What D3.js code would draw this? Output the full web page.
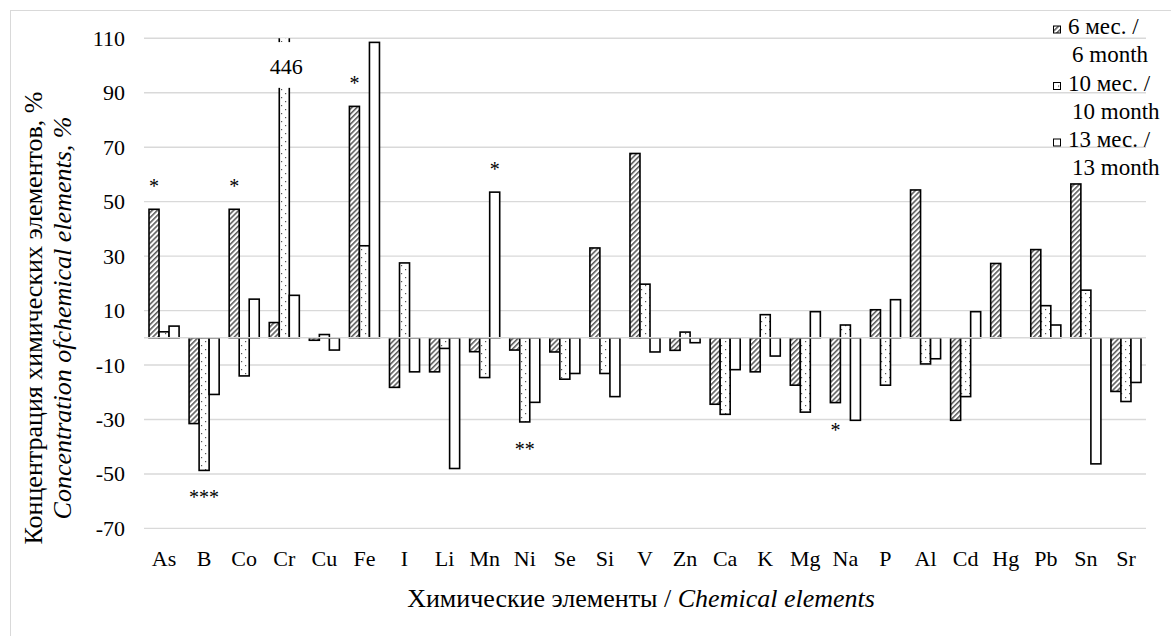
<!DOCTYPE html>
<html><head><meta charset="utf-8">
<script src="https://cdn.jsdelivr.net/npm/d3@7"></script>
<style>
body{margin:0;background:#fff}
svg{display:block}
text, tspan{font-family:"Liberation Serif","Times New Roman",serif;fill:#000}
</style>
</head><body>
<svg id="chart" width="1171" height="636"></svg>
<script>
// ---- data ----
const elements = ["As","B","Co","Cr","Cu","Fe","I","Li","Mn","Ni","Se","Si","V","Zn","Ca","K","Mg","Na","P","Al","Cd","Hg","Pb","Sn","Sr"];
const months6  = [47.2,-31.5,47.2,5.6,-0.9,85,-18.2,-12.5,-5.1,-4.5,-5.2,33,67.7,-4.6,-24.4,-12.5,-17.4,-23.8,10.3,54.3,-30.3,27.3,32.4,56.5,-19.7];
const months10 = [2.2,-48.7,-14,446,1.2,33.8,27.5,-3.9,-14.6,-30.9,-15.2,-13.1,19.7,2.1,-28.1,8.5,-27.3,4.7,-17.4,-9.6,-21.6,null,11.8,17.5,-23.4];
const months13 = [4.3,-20.8,14.2,15.6,-4.5,108.5,-12.5,-48,53.5,-23.7,-13.1,-21.6,-5.2,-1.8,-11.7,-6.7,9.6,-30.3,14,-7.7,9.6,null,4.7,-46.3,-16.4];
const seriesLabels = [["6 мес. /","6 month"],["10 мес. /","10 month"],["13 мес. /","13 month"]];
const yTicks = [110,90,70,50,30,10,-10,-30,-50,-70];
const starElements = ["As","Co","Fe","Mn","B","Ni","Na"];
const starSeries   = [0,0,0,2,1,1,0];
const starTexts    = ["*","*","*","*","***","**","*"];
const brokenLabel = "446";
const yTitle1 = "Концентрация химических  элементов, %";
const yTitle2 = "Concentration ofchemical elements, %";
const xTitle1 = "Химические элементы / ";
const xTitle2 = "Chemical elements";

const series = [months6, months10, months13];
const FONT = '"Liberation Serif","Times New Roman",serif';

// ---- setup ----
const svg = d3.select("#chart");
const defs = svg.append("defs");

const hatch = defs.append("pattern").attr("id","hatch").attr("patternUnits","userSpaceOnUse")
  .attr("width",3.6).attr("height",3.6).attr("patternTransform","rotate(45)");
hatch.append("rect").attr("width",3.6).attr("height",3.6).attr("fill","#fff");
hatch.append("line").attr("x1",0.8).attr("y1",0).attr("x2",0.8).attr("y2",3.6).attr("stroke","#3a3a3a").attr("stroke-width",1.3);

const dots = defs.append("pattern").attr("id","dots").attr("patternUnits","userSpaceOnUse")
  .attr("width",8).attr("height",8);
dots.append("rect").attr("width",8).attr("height",8).attr("fill","#fff");
dots.append("rect").attr("x",1).attr("y",1).attr("width",1.2).attr("height",1.2).attr("fill","#555");
dots.append("rect").attr("x",5).attr("y",5).attr("width",1.2).attr("height",1.2).attr("fill","#555");

const fills = ["url(#hatch)","url(#dots)","#fff"];

// frame
svg.append("rect").attr("x",10.5).attr("y",10.5).attr("width",1300).attr("height",800)
  .attr("fill","none").attr("stroke","#d9d9d9").attr("stroke-width",1);

const x0 = d3.scaleBand().domain(elements).range([144,1146]).paddingInner(0.25).paddingOuter(0.125);
const x1 = d3.scaleBand().domain([0,1,2]).range([0,x0.bandwidth()]);
const y = d3.scaleLinear().domain([-70,110]).range([528.4,38.3]);

defs.append("clipPath").attr("id","plotclip").append("rect")
  .attr("x",0).attr("y",y(110)).attr("width",1171).attr("height",y(-70)-y(110)+10);

// grid
svg.append("g").selectAll("line").data(yTicks).join("line")
  .attr("x1",144).attr("x2",1146).attr("y1",d=>y(d)).attr("y2",d=>y(d))
  .attr("stroke","#d9d9d9").attr("stroke-width",1.4);

// y tick labels
svg.append("g").selectAll("text").data(yTicks).join("text")
  .attr("x",125).attr("y",d=>y(d)+7.5).attr("text-anchor","end")
  .style("font-family",FONT).style("font-size","22px").text(d=>d);

// bars
const barData = [];
elements.forEach((el,i)=>series.forEach((s,j)=>{ if(s[i]!==null) barData.push({el,j,v:s[i]}); }));
svg.append("g").attr("clip-path","url(#plotclip)").selectAll("rect").data(barData).join("rect")
  .attr("x",d=>x0(d.el)+x1(d.j)).attr("width",x1.bandwidth())
  .attr("y",d=>Math.min(y(d.v),y(0))).attr("height",d=>Math.abs(y(d.v)-y(0)))
  .attr("fill",d=>fills[d.j]).attr("stroke","#000").attr("stroke-width",1.6);

// zero axis line
svg.append("line").attr("x1",144).attr("x2",1146).attr("y1",y(0)).attr("y2",y(0))
  .attr("stroke","#d9d9d9").attr("stroke-width",1.6);

// axis break on the Cr 10-month bar
const brokenIdx = months10.findIndex(v=>v>110);
const bx = x0(elements[brokenIdx])+x1(1);
svg.append("rect").attr("x",bx-3).attr("width",x1.bandwidth()+6)
  .attr("y",y(108.6)).attr("height",y(91.8)-y(108.6)).attr("fill","#fff");
svg.append("text").attr("x",bx+x1.bandwidth()/2+2).attr("y",y(100)+8).attr("text-anchor","middle")
  .style("font-family",FONT).style("font-size","22px").text(brokenLabel);

// significance stars
svg.append("g").selectAll("text").data(starElements.map((el,k)=>({el,j:starSeries[k],t:starTexts[k]}))).join("text")
  .attr("x",d=>x0(d.el)+x1(d.j)+x1.bandwidth()/2)
  .attr("y",d=>{const v=series[d.j][elements.indexOf(d.el)]; return v>0? y(v)-25+9 : y(v)+25+9;})
  .attr("text-anchor","middle").style("font-family",FONT).style("font-size","20px").text(d=>d.t);

// x tick labels
svg.append("g").selectAll("text").data(elements).join("text")
  .attr("x",d=>x0(d)+x0.bandwidth()/2).attr("y",566).attr("text-anchor","middle")
  .style("font-family",FONT).style("font-size","22px").text(d=>d);

// x title
const xt = svg.append("text").attr("x",641).attr("y",607).attr("text-anchor","middle")
  .style("font-family",FONT).style("font-size","26px");
xt.append("tspan").text(xTitle1);
xt.append("tspan").style("font-style","italic").text(xTitle2);

// y title
const yt = svg.append("g").attr("transform","translate(0,318) rotate(-90)");
yt.append("text").attr("x",0).attr("y",42).attr("text-anchor","middle")
  .style("font-family",FONT).style("font-size","26px").text(yTitle1);
yt.append("text").attr("x",0).attr("y",71).attr("text-anchor","middle")
  .style("font-family",FONT).style("font-size","26px").style("font-style","italic").text(yTitle2);

// legend
const lg = svg.append("g").selectAll("g").data(seriesLabels).join("g")
  .attr("transform",(d,i)=>`translate(1053,${i*56.5})`);
lg.append("rect").attr("x",0.5).attr("y",26).attr("width",7).attr("height",7)
  .attr("fill",(d,i)=>fills[i]).attr("stroke","#000").attr("stroke-width",1);
lg.append("text").attr("x",15).attr("y",34).style("font-family",FONT).style("font-size","23px").text(d=>d[0]);
lg.append("text").attr("x",19).attr("y",62).style("font-family",FONT).style("font-size","23px").text(d=>d[1]);
</script>
</body></html>
